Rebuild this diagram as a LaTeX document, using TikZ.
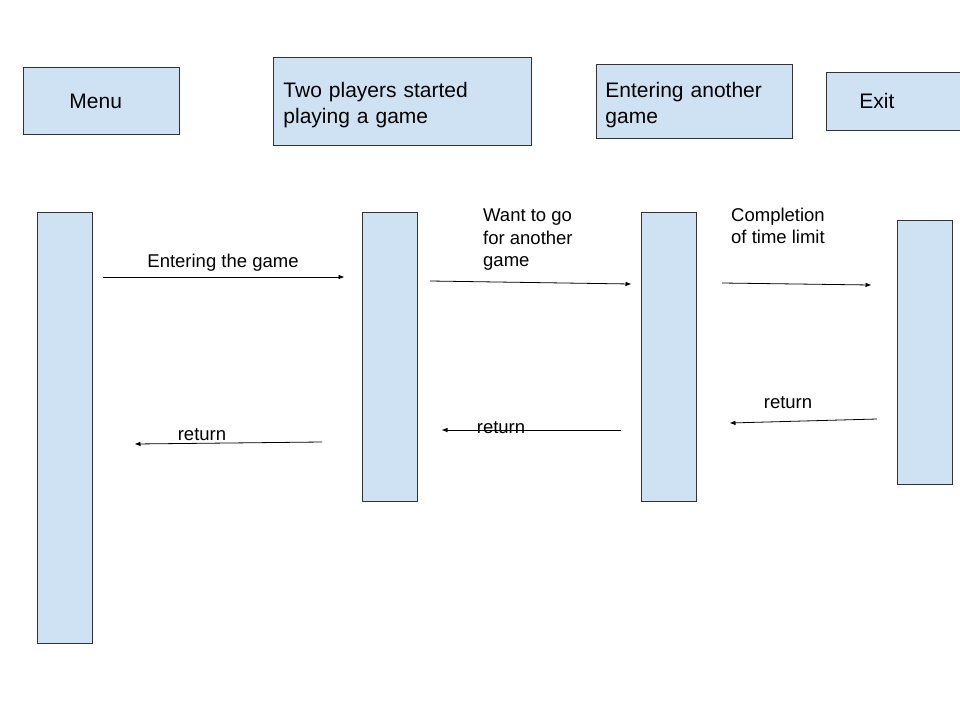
\documentclass[tikz,border=0pt]{standalone}
\usepackage{fontspec}
\setmainfont{Liberation Sans}
\usepackage{xcolor}
\usetikzlibrary{arrows.meta,positioning}
\definecolor{boxblue}{HTML}{CFE2F3}
\definecolor{edge}{HTML}{333333}

\begin{document}
\begin{tikzpicture}[
  x=1pt, y=-1pt,
  box/.style={rectangle, draw=edge, fill=boxblue, line width=0.9pt, align=left, inner ysep=0pt,
    font=\fontsize{21}{26}\selectfont},
  twoline/.style={execute at begin node={\rule{0pt}{21.5pt}}},
  life/.style={rectangle, draw=edge, fill=boxblue, line width=0.9pt, minimum width=55pt, inner sep=0pt},
  msg/.style={-{Triangle[length=5.5pt,width=4pt]}, line width=0.8pt},
  lbl/.style={align=left, inner sep=0pt, font=\fontsize{18.5}{22.5}\selectfont}
]
\clip (0,0) rectangle (960,720);
\useasboundingbox (0,0) rectangle (960,720);
\fill[white] (0,0) rectangle (960,720);

% headers
\node[box, anchor=north west, minimum width=156pt, minimum height=67pt, inner xsep=46pt, text width=64pt] (menu) at (23,67) {Menu};
\node[box, twoline, anchor=north west, minimum width=258pt, minimum height=88pt, inner xsep=10pt, text width=238pt] (play) at (273,57) {Two players started\\playing a game};
\node[box, twoline, anchor=north west, minimum width=196pt, minimum height=74pt, inner xsep=9pt, text width=178pt] (another) at (596,64) {Entering another\\game};
\node[box, anchor=north west, minimum width=160pt, minimum height=58pt, inner xsep=33pt, text width=94pt] (exit) at (826,72) {Exit};

% lifelines
\node[life, anchor=north west, minimum height=431pt] (life1) at (37,212) {};
\node[life, anchor=north west, minimum height=289pt] (life2) at (362,212) {};
\node[life, anchor=north west, minimum height=289pt] (life3) at (641,212) {};
\node[life, anchor=north west, minimum height=264pt] (life4) at (897,220) {};

% message ends
\coordinate (enterS) at (103,277);
\coordinate (enterE) at (344,277);
\coordinate (wantS) at (430,281);
\coordinate (wantE) at (631,284);
\coordinate (timeS) at (722,283);
\coordinate (timeE) at (871,285);
\coordinate (ret3S) at (877,419);
\coordinate (ret3E) at (730,423);
\coordinate (ret2S) at (621,430);
\coordinate (ret2E) at (442,430);
\coordinate (ret1S) at (322,442);
\coordinate (ret1E) at (135,444);

\draw[msg] (enterS) -- (enterE);
\draw[msg] (wantS) -- (wantE);
\draw[msg] (timeS) -- (timeE);
\draw[msg] (ret3S) -- (ret3E);
\draw[msg] (ret2S) -- (ret2E);
\draw[msg] (ret1S) -- (ret1E);

% labels
\node[lbl] (enterLbl) at (223,263) {Entering the game};
\node[lbl, anchor=west] (wantLbl) at (483,240) {Want to go\\for another\\game};
\node[lbl, anchor=west] (timeLbl) at (731,226) {Completion\\of time limit};
\node[lbl] (ret3Lbl) at (788,403) {return};
\node[lbl] (ret2Lbl) at (501,428) {return};
\node[lbl] (ret1Lbl) at (202,435) {return};
\end{tikzpicture}
\end{document}
